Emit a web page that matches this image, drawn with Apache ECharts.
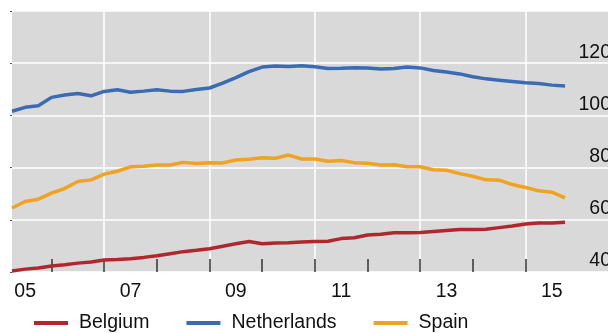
<!DOCTYPE html>
<html>
<head>
<meta charset="utf-8">
<script src="https://cdn.jsdelivr.net/npm/echarts@6/dist/echarts.min.js"></script>
<style>
  html, body { margin: 0; padding: 0; background: #ffffff; }
  #chart { width: 608px; height: 333px; }
</style>
</head>
<body>
<div id="chart"></div>
<script>
// Quarterly observations, 2005 Q2 .. 2015 Q4
var startYear = 2005.25;          // first quarter (2005 Q2)
var quarterStep = 0.25;

var seriesNames = ['Belgium', 'Netherlands', 'Spain'];

var belgium = [
  40.4, 41.1, 41.5, 42.3, 42.8, 43.4, 43.8, 44.6, 44.8, 45.1,
  45.6, 46.2, 47.0, 47.8, 48.3, 48.9, 49.9, 50.8, 51.7, 50.8,
  51.1, 51.2, 51.5, 51.7, 51.8, 52.8, 53.1, 54.2, 54.5, 55.0,
  55.0, 55.1, 55.5, 55.9, 56.3, 56.3, 56.4, 57.0, 57.6, 58.4,
  58.8, 58.8, 59.1
];
var netherlands = [
  101.6, 103.1, 103.7, 106.9, 107.8, 108.4, 107.5, 109.2, 109.8, 108.9,
  109.3, 109.8, 109.3, 109.2, 109.9, 110.5, 112.4, 114.5, 116.8, 118.5,
  118.9, 118.7, 119.0, 118.6, 118.0, 118.1, 118.3, 118.2, 117.8, 118.0,
  118.5, 118.2, 117.2, 116.6, 115.9, 114.8, 114.0, 113.5, 113.0, 112.5,
  112.2, 111.6, 111.3
];
var spain = [
  64.5, 67.0, 67.9, 70.2, 72.0, 74.7, 75.3, 77.5, 78.6, 80.3,
  80.5, 81.0, 81.0, 82.0, 81.6, 81.9, 81.8, 82.9, 83.2, 83.8,
  83.6, 84.8, 83.3, 83.3, 82.4, 82.7, 81.9, 81.7, 81.0, 81.1,
  80.3, 80.3, 79.2, 79.0, 77.7, 76.7, 75.3, 75.2, 73.5, 72.4,
  71.1, 70.6, 68.4
];

// Axis ticks / labels
var yearTicks = [2006, 2007, 2008, 2009, 2010, 2011, 2012, 2013, 2014, 2015];
var gridYears = [2007, 2009, 2011, 2013, 2015];
var xLabelPositions = [2005.5, 2007.5, 2009.5, 2011.5, 2013.5, 2015.5];
var xTickLabels = ['05', '07', '09', '11', '13', '15'];
var yTickLabels = ['40', '60', '80', '100', '120'];

var colors = ['#b0282d', '#3a6cb4', '#efa321'];
var FONT = '"Liberation Sans", Arial, Helvetica, sans-serif';

function toPairs(arr) {
  return arr.map(function (v, i) { return [startYear + i * quarterStep, v]; });
}

var xMin = 2005.25, xMax = 2016.566;

var chart = echarts.init(document.getElementById('chart'), null, { renderer: 'canvas' });
chart.setOption({
  animation: false,
  textStyle: { fontFamily: FONT },
  grid: {
    left: 12, right: 0, top: 11, bottom: 61,
    show: true, backgroundColor: '#d9d9d9', borderWidth: 0,
    containLabel: false, outerBoundsMode: 'none'
  },
  legend: {
    data: seriesNames,
    left: 29, top: 308,
    icon: 'rect', itemWidth: 34, itemHeight: 4, itemGap: 37,
    textStyle: { fontSize: 19.5, color: '#111', fontFamily: FONT, padding: [0, 0, 0, 6] }
  },
  xAxis: [
    {
      type: 'value', min: xMin, max: xMax, position: 'bottom',
      axisLine: { show: false },
      splitLine: { show: false },
      axisTick: {
        show: true, inside: true, length: 13,
        customValues: yearTicks,
        lineStyle: { color: '#333', width: 1.5 }
      },
      axisLabel: {
        show: true, margin: 10, fontSize: 19.5, color: '#111', fontFamily: FONT,
        customValues: xLabelPositions,
        formatter: function (v) {
          var k = xLabelPositions.indexOf(v);
          return k >= 0 ? xTickLabels[k] : '';
        }
      }
    },
    {
      type: 'value', min: xMin, max: xMax, position: 'top',
      axisLine: { show: false },
      axisLabel: { show: false },
      axisTick: { show: false, customValues: gridYears },
      splitLine: { show: true, lineStyle: { color: '#ffffff', width: 1.5 } }
    }
  ],
  yAxis: [
    {
      type: 'value', min: 40, max: 140, interval: 20, position: 'right',
      axisLine: { show: false },
      axisTick: { show: false },
      splitLine: { show: true, lineStyle: { color: '#ffffff', width: 1.5 } },
      axisLabel: {
        show: true, inside: true, margin: -3, fontSize: 19.5, color: '#111',
        fontFamily: FONT, verticalAlign: 'bottom', padding: [0, 0, 1, 0],
        formatter: function (v) {
          var s = String(v);
          return yTickLabels.indexOf(s) >= 0 ? s : '';
        }
      }
    },
    {
      type: 'value', min: 40, max: 140, interval: 20, position: 'left',
      axisLine: { show: false },
      axisLabel: { show: false },
      splitLine: { show: false },
      axisTick: { show: true, length: 2, lineStyle: { color: '#555', width: 1 } }
    }
  ],
  series: [
    { name: seriesNames[0], type: 'line', data: toPairs(belgium), xAxisIndex: 0, yAxisIndex: 0,
      showSymbol: false, symbol: 'none', lineStyle: { width: 3.5, color: colors[0] }, itemStyle: { color: colors[0] } },
    { name: seriesNames[1], type: 'line', data: toPairs(netherlands), xAxisIndex: 0, yAxisIndex: 0,
      showSymbol: false, symbol: 'none', lineStyle: { width: 3.5, color: colors[1] }, itemStyle: { color: colors[1] } },
    { name: seriesNames[2], type: 'line', data: toPairs(spain), xAxisIndex: 0, yAxisIndex: 0,
      showSymbol: false, symbol: 'none', lineStyle: { width: 3.5, color: colors[2] }, itemStyle: { color: colors[2] } }
  ]
});
</script>
</body>
</html>
